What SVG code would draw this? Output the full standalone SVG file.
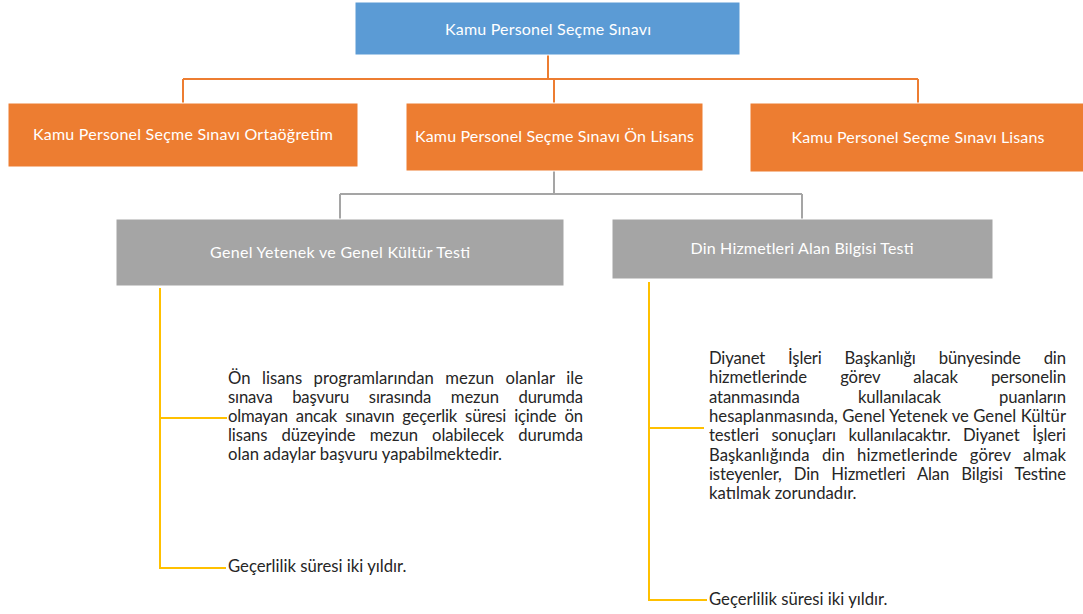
<svg xmlns="http://www.w3.org/2000/svg" width="1083" height="614" viewBox="0 0 1083 614">
<style>
.lbl{font-family:Lato,"Liberation Sans",sans-serif;font-size:16px;fill:#ffffff;text-anchor:middle}
.p{font-family:Lato,"Liberation Sans",sans-serif;font-size:16.7px;fill:#262626}
.o{stroke:#ed7d31;stroke-width:2;fill:none}
.g{stroke:#a5a5a5;stroke-width:2;fill:none}
.y{stroke:#ffc000;stroke-width:2;fill:none}
.box{stroke:#ffffff;stroke-width:1}
</style>
<rect width="1083" height="614" fill="#ffffff"/>
<g id="connectors">
<path class="o" d="M548 55V79M183 79H918M183 79V103M554 79V103M918 79V103"/>
<path class="g" d="M554 171V194M340 194H802M340 194V219M802 194V219"/>
<path class="y" d="M160 288V568H226M160 418H227"/>
<path class="y" d="M649 282V600H707M649 428H704"/>
</g>
<g id="n-root"><rect class="box" x="355" y="2" width="385" height="53" fill="#5b9bd5"/><text class="lbl" x="548" y="35" textLength="206">Kamu Personel Seçme Sınavı</text></g>
<g id="n-orta"><rect class="box" x="8" y="103" width="350" height="64" fill="#ed7d31"/><text class="lbl" x="183" y="140" textLength="300">Kamu Personel Seçme Sınavı Ortaöğretim</text></g>
<g id="n-onlisans"><rect class="box" x="406" y="103" width="297" height="68" fill="#ed7d31"/><text class="lbl" x="554.5" y="142" textLength="279">Kamu Personel Seçme Sınavı Ön Lisans</text></g>
<g id="n-lisans"><rect class="box" x="750" y="103" width="334" height="69" fill="#ed7d31"/><text class="lbl" x="918" y="143" textLength="253">Kamu Personel Seçme Sınavı Lisans</text></g>
<g id="n-gygk"><rect class="box" x="116" y="219" width="448" height="67" fill="#a5a5a5"/><text class="lbl" x="340" y="258" textLength="260">Genel Yetenek ve Genel Kültür Testi</text></g>
<g id="n-dhbt"><rect class="box" x="612" y="219" width="381" height="60" fill="#a5a5a5"/><text class="lbl" x="802" y="254" textLength="223">Din Hizmetleri Alan Bilgisi Testi</text></g>
<g id="n-text-left">
<text class="p" x="228" y="384" textLength="355" lengthAdjust="spacing" word-spacing="7">Ön lisans programlarından mezun olanlar ile</text>
<text class="p" x="228" y="403" textLength="355" lengthAdjust="spacing" word-spacing="15.5">sınava başvuru sırasında mezun durumda</text>
<text class="p" x="228" y="422" textLength="355" lengthAdjust="spacing" word-spacing="4">olmayan ancak sınavın geçerlik süresi içinde ön</text>
<text class="p" x="228" y="441" textLength="355" lengthAdjust="spacing" word-spacing="10">lisans düzeyinde mezun olabilecek durumda</text>
<text class="p" x="228" y="460">olan adaylar başvuru yapabilmektedir.</text>
</g>
<g id="n-gec-left"><text class="p" x="228" y="572">Geçerlilik süresi iki yıldır.</text></g>
<g id="n-text-right">
<text class="p" x="709" y="364" textLength="357" lengthAdjust="spacing" word-spacing="19">Diyanet İşleri Başkanlığı bünyesinde din</text>
<text class="p" x="709" y="383.3" textLength="357" lengthAdjust="spacing" word-spacing="29">hizmetlerinde görev alacak personelin</text>
<text class="p" x="709" y="402.6" textLength="357" lengthAdjust="spacing" word-spacing="54">atanmasında kullanılacak puanların</text>
<text class="p" x="709" y="421.9" textLength="357" lengthAdjust="spacing">hesaplanmasında, Genel Yetenek ve Genel Kültür</text>
<text class="p" x="709" y="441.2" textLength="357" lengthAdjust="spacing" word-spacing="8.5">testleri sonuçları kullanılacaktır. Diyanet İşleri</text>
<text class="p" x="709" y="460.5" textLength="357" lengthAdjust="spacing" word-spacing="8">Başkanlığında din hizmetlerinde görev almak</text>
<text class="p" x="709" y="479.8" textLength="357" lengthAdjust="spacing" word-spacing="8">isteyenler, Din Hizmetleri Alan Bilgisi Testine</text>
<text class="p" x="709" y="499.1">katılmak zorundadır.</text>
</g>
<g id="n-gec-right"><text class="p" x="709" y="605">Geçerlilik süresi iki yıldır.</text></g>
</svg>
